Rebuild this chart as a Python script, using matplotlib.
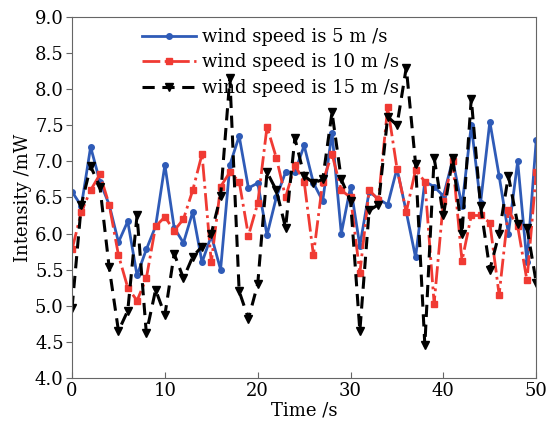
import matplotlib
matplotlib.use("Agg")
import matplotlib.pyplot as plt
import numpy as np

time_s = np.arange(0, 51)

speed5 = [6.58, 6.38, 7.20, 6.72, 6.40, 5.88, 6.17, 5.42, 5.78, 6.10,
          6.95, 6.08, 5.87, 6.30, 5.60, 5.97, 5.50, 6.95, 7.35, 6.63,
          6.70, 5.98, 6.50, 6.85, 6.85, 7.22, 6.70, 6.45, 7.40, 6.00,
          6.65, 5.83, 6.58, 6.48, 6.40, 6.90, 6.30, 5.67, 6.72, 6.65,
          6.52, 7.02, 6.38, 7.50, 6.42, 7.55, 6.80, 6.00, 7.00, 5.60,
          7.30]
speed10 = [5.78, 6.30, 6.60, 6.82, 6.40, 5.70, 5.25, 5.07, 5.38, 6.10,
           6.23, 6.04, 6.20, 6.60, 7.10, 5.60, 6.65, 6.85, 6.72, 5.97,
           6.42, 7.48, 7.05, 6.50, 6.95, 6.72, 5.70, 6.72, 7.10, 6.60,
           6.50, 5.45, 6.60, 6.47, 7.75, 6.90, 6.30, 6.88, 6.72, 5.03,
           6.45, 7.00, 5.62, 6.25, 6.25, 6.15, 5.15, 6.32, 6.10, 5.35,
           6.85]
speed15 = [4.97, 6.40, 6.93, 6.65, 5.53, 4.65, 4.93, 6.25, 4.62, 5.22,
           4.87, 5.72, 5.38, 5.68, 5.82, 6.00, 6.52, 8.15, 5.20, 4.82,
           5.30, 6.85, 6.60, 6.08, 7.32, 6.80, 6.70, 6.75, 7.68, 6.75,
           6.45, 4.65, 6.32, 6.40, 7.62, 7.50, 8.30, 6.97, 4.45, 7.05,
           6.25, 7.05, 6.00, 7.87, 6.38, 5.50, 6.00, 6.80, 6.13, 6.08,
           5.32]

labels = ["wind speed is 5 m /s", "wind speed is 10 m /s", "wind speed is 15 m /s"]

plt.rcParams['font.family'] = 'DejaVu Serif'
plt.rcParams['font.size'] = 13

fig = plt.figure(figsize=(5.5, 4.26), dpi=100)
ax = fig.add_axes([0.131, 0.113, 0.844, 0.847])

ax.plot(time_s, speed5, '-', color='#2f5bb7', lw=2, marker='o', ms=4, label=labels[0])
ax.plot(time_s, speed10, '-.', color='#f03a33', lw=2, marker='s', ms=4, label=labels[1])
ax.plot(time_s, speed15, '--', color='black', lw=2.2, marker='v', ms=5.5,
        dashes=(4, 2.5), label=labels[2])

ax.set_xlim(0, 50)
ax.set_ylim(4.0, 9.0)
ax.set_xticks(np.arange(0, 51, 10))
ax.set_yticks(np.arange(4.0, 9.01, 0.5))
ax.yaxis.set_major_formatter(matplotlib.ticker.FormatStrFormatter('%.1f'))
for s in ax.spines.values():
    s.set_color('#666666')
ax.tick_params(axis='x', direction='in', length=4, color='#666666', labelsize=13, pad=3)
ax.tick_params(axis='y', direction='out', length=4, color='#666666', labelsize=13, pad=2)
ax.set_xlabel('Time /s', fontsize=13, labelpad=1)
ax.set_ylabel('Intensity /mW', fontsize=13, labelpad=2)

ax.legend(loc='upper left', bbox_to_anchor=(0.12, 1.01), frameon=False,
          handlelength=3, fontsize=13, labelspacing=0.42, borderpad=0.3,
          handletextpad=0.3)

fig.savefig('out.png')
